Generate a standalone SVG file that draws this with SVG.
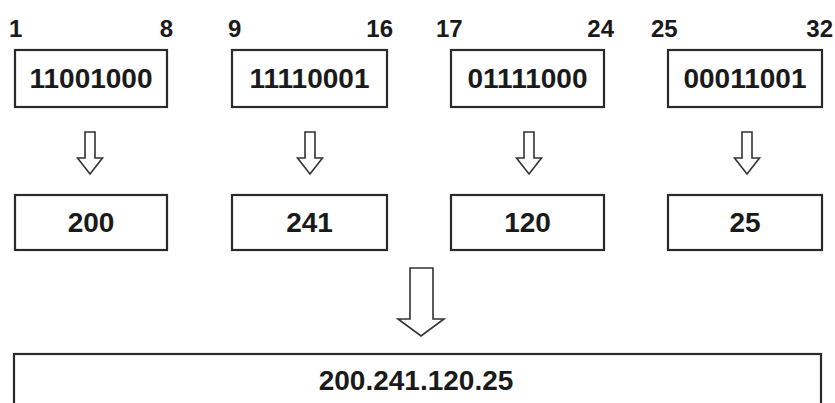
<svg xmlns="http://www.w3.org/2000/svg" width="835" height="403" viewBox="0 0 835 403">
<defs>
<style>
.box{fill:#fff;stroke:#2a2a2a;stroke-width:2.2}
.arr{fill:#fff;stroke:#333;stroke-width:1.6;stroke-linejoin:miter}
.t{font-family:"Liberation Sans",Arial,sans-serif;font-weight:bold;fill:#1a1a1a;text-anchor:middle}
.big{font-size:28px}
.lbl{font-family:"Liberation Sans",Arial,sans-serif;font-weight:bold;fill:#1a1a1a;font-size:24px}
</style>
</defs>
<rect width="835" height="403" fill="#fff"/>
<g id="labels">
<text class="lbl" x="9" y="37">1</text>
<text class="lbl" x="173" y="37" text-anchor="end">8</text>
<text class="lbl" x="228" y="37">9</text>
<text class="lbl" x="393" y="37" text-anchor="end">16</text>
<text class="lbl" x="436" y="37">17</text>
<text class="lbl" x="614" y="37" text-anchor="end">24</text>
<text class="lbl" x="651" y="37">25</text>
<text class="lbl" x="833" y="37" text-anchor="end">32</text>
</g>
<g id="bin1"><rect class="box" x="15" y="50" width="152" height="57"/><text class="t big" x="91" y="88">11001000</text></g>
<g id="bin2"><rect class="box" x="232" y="50" width="155" height="57"/><text class="t big" x="309.5" y="88">11110001</text></g>
<g id="bin3"><rect class="box" x="451" y="50" width="153" height="57"/><text class="t big" x="527.5" y="88">01111000</text></g>
<g id="bin4"><rect class="box" x="668" y="50" width="154" height="57"/><text class="t big" x="745" y="88">00011001</text></g>
<g id="dec1"><rect class="box" x="15" y="195" width="152" height="55"/><text class="t big" x="91" y="232">200</text></g>
<g id="dec2"><rect class="box" x="232" y="195" width="155" height="55"/><text class="t big" x="309.5" y="232">241</text></g>
<g id="dec3"><rect class="box" x="451" y="195" width="153" height="55"/><text class="t big" x="527.5" y="232">120</text></g>
<g id="dec4"><rect class="box" x="668" y="195" width="154" height="55"/><text class="t big" x="745" y="232">25</text></g>
<g id="result"><rect class="box" x="14" y="354" width="807" height="80"/><text class="t big" x="416" y="390">200.241.120.25</text></g>
<g id="connectors">
<path class="arr" d="M85 132 H95 V158 H102.5 L90 174 L77.5 158 H85 Z"/>
<path class="arr" d="M305 132 H315 V158 H322.5 L310 174 L297.5 158 H305 Z"/>
<path class="arr" d="M524 132 H534 V158 H541.5 L529 174 L516.5 158 H524 Z"/>
<path class="arr" d="M742 132 H752 V158 H759.5 L747 174 L734.5 158 H742 Z"/>
<path class="arr" d="M410 268 H433 V319 H444 L421 336 L398 319 H410 Z"/>
</g>
</svg>
